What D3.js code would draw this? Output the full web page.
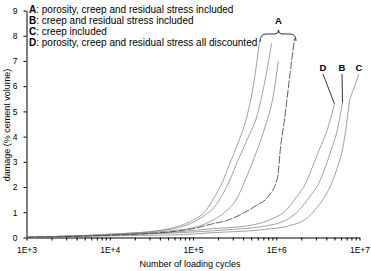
<!DOCTYPE html>
<html>
<head>
<meta charset="utf-8">
<script src="https://cdn.jsdelivr.net/npm/d3@7"></script>
<style>
  body { margin: 0; background: #fff; }
  svg text { font-family: "Liberation Sans", Arial, sans-serif; }
</style>
</head>
<body>
<div id="chart"></div>
<script>
// [cycles, damage %]
const curveA1 = [[1e3,0.01],[4.3e3,0.07],[1.3e4,0.15],[3.0e4,0.23],[5.2e4,0.35],[9.1e4,0.62],[1.45e5,1.1],[1.81e5,1.6],[2.26e5,2.2],[2.74e5,2.9],[3.43e5,3.7],[4.52e5,4.9],[5.48e5,6.3],[6.3e5,7.8]];
const curveA2 = [[1e3,0.01],[1.3e4,0.15],[4.0e4,0.27],[7.9e4,0.46],[1.3e5,0.82],[1.9e5,1.3],[2.7e5,2.2],[3.4e5,3.0],[4.5e5,3.9],[5.96e5,4.9],[7.4e5,6.3],[8.8e5,7.7]];
const curveA3 = [[1e3,0.01],[9.9e3,0.11],[4.0e4,0.23],[9.9e4,0.38],[1.58e5,0.62],[2.4e5,1.0],[3.3e5,1.5],[4.4e5,2.4],[5.5e5,3.2],[7.2e5,4.3],[9.3e5,5.7],[1.06e6,7.0]];
const curveA4 = [[1e3,0.01],[4.0e4,0.19],[9.9e4,0.35],[1.7e5,0.54],[2.7e5,0.7],[4.2e5,1.0],[5.96e5,1.3],[7.9e5,1.6],[1.04e6,2.4],[1.12e6,3.5],[1.26e6,4.7],[1.44e6,6.3],[1.66e6,7.9]];
const curveD = [[1e3,0.01],[1.3e4,0.11],[6.9e4,0.23],[1.7e5,0.35],[4.4e5,0.46],[8.3e5,0.7],[1.33e6,1.1],[1.75e6,1.6],[2.3e6,2.2],[2.8e6,2.9],[3.3e6,3.5],[4.13e6,4.3],[5.0e6,5.3]];
const curveB = [[1e3,0.01],[1.3e4,0.11],[6.9e4,0.19],[2.7e5,0.31],[6.3e5,0.42],[1.33e6,0.7],[1.9e6,1.1],[2.5e6,1.6],[3.3e6,2.2],[3.9e6,2.8],[4.6e6,3.5],[5.45e6,4.3],[6.25e6,5.35]];
const curveC = [[1e3,0.01],[1.3e4,0.07],[6.9e4,0.11],[1.7e5,0.19],[6.8e5,0.31],[1.57e6,0.5],[2.2e6,0.7],[3.1e6,1.2],[3.8e6,1.6],[4.7e6,2.2],[5.45e6,2.8],[6.25e6,3.5],[7.0e6,4.5],[7.6e6,5.46]];

const legendLetters = ["A", "B", "C", "D"];
const legendTexts = [
  ": porosity, creep and residual stress included",
  ": creep and residual stress included",
  ": creep included",
  ": porosity, creep and residual stress all discounted"
];
const yTicks = [0, 1, 2, 3, 4, 5, 6, 7, 8, 9];
const xMajor = [1e3, 1e4, 1e5, 1e6, 1e7];

const width = 371, height = 271;
const svg = d3.select("#chart").append("svg")
  .attr("width", width)
  .attr("height", height);

const x = d3.scaleLog().domain([1e3, 1e7]).range([26.5, 359.5]);
const y = d3.scaleLinear().domain([0, 9]).range([237.5, 10.5]);

// all ticks 1..9 per decade
const xTicks = [];
xMajor.slice(0, -1).forEach(p => { for (let k = 1; k < 10; k++) xTicks.push(p * k); });
xTicks.push(1e7);

const fmt = d => {
  const e = Math.round(Math.log10(d));
  return Math.abs(d - Math.pow(10, e)) < 1e-6 ? "1E+" + e : "";
};

svg.append("g")
  .attr("transform", `translate(0,${y(0)})`)
  .call(d3.axisBottom(x).tickValues(xTicks).tickFormat(fmt).tickSize(3).tickSizeOuter(0).tickPadding(6))
  .call(g => g.selectAll("text").style("font-size", "8.5px").attr("fill", "#000"))
  .call(g => g.selectAll("line,path").attr("stroke", "#000"));

svg.append("g")
  .attr("transform", `translate(${x(1e3)},0)`)
  .call(d3.axisLeft(y).tickValues(yTicks).tickSize(3).tickSizeOuter(0).tickPadding(6))
  .call(g => g.selectAll("text").style("font-size", "8.5px").attr("fill", "#000"))
  .call(g => g.selectAll("line,path").attr("stroke", "#000"));

const line = d3.line()
  .x(d => x(d[0]))
  .y(d => y(d[1]))
  .curve(d3.curveMonotoneX);

const curves = [curveA1, curveA2, curveA3, curveD, curveB, curveC];
svg.selectAll("path.curve")
  .data(curves)
  .join("path")
  .attr("class", "curve")
  .attr("d", line)
  .attr("fill", "none")
  .attr("stroke", "#8a8a8a")
  .attr("stroke-width", 0.8);

svg.append("path")
  .attr("d", line(curveA4))
  .attr("fill", "none")
  .attr("stroke", "#3a3a3a")
  .attr("stroke-width", 0.8)
  .attr("stroke-dasharray", "8,1.5");

// legend
legendLetters.forEach((l, i) => {
  const t = svg.append("text")
    .attr("x", 29)
    .attr("y", 13.3 + i * 10.8)
    .style("font-size", "10px")
    .attr("fill", "#000");
  t.append("tspan").attr("font-weight", "bold").text(l);
  t.append("tspan").text(legendTexts[i]);
});

// bracket for group A
svg.append("path")
  .attr("d", "M260,42 Q260,34 266,34 L275,34 Q278.5,34 278.5,30 Q278.5,34 282,34 L290,34 Q296,34 296,41")
  .attr("fill", "none")
  .attr("stroke", "#000")
  .attr("stroke-width", 0.8);
svg.append("text")
  .attr("x", 278.5).attr("y", 24)
  .attr("text-anchor", "middle")
  .attr("font-weight", "bold")
  .style("font-size", "9.5px")
  .text("A");

// labels D, B, C with leader lines
const tagD = curveD[curveD.length - 1], tagB = curveB[curveB.length - 1], tagC = curveC[curveC.length - 1];
const tags = [
  { label: "D", lx: 323, end: tagD, col: "#000" },
  { label: "B", lx: 342, end: tagB, col: "#000" },
  { label: "C", lx: 359, end: tagC, col: "#8a8a8a" }
];
tags.forEach(t => {
  svg.append("line")
    .attr("x1", t.lx).attr("y1", 74)
    .attr("x2", x(t.end[0])).attr("y2", y(t.end[1]))
    .attr("stroke", t.col).attr("stroke-width", 0.8);
  svg.append("text")
    .attr("x", t.lx).attr("y", 71)
    .attr("text-anchor", "middle")
    .attr("font-weight", "bold")
    .style("font-size", "9.5px")
    .text(t.label);
});

// axis titles
svg.append("text")
  .attr("x", 190).attr("y", 267)
  .attr("text-anchor", "middle")
  .style("font-size", "9px")
  .text("Number of loading cycles");
svg.append("text")
  .attr("transform", "translate(9.5,125) rotate(-90)")
  .attr("text-anchor", "middle")
  .style("font-size", "9px")
  .text("damage (% cement volume)");
</script>
</body>
</html>
